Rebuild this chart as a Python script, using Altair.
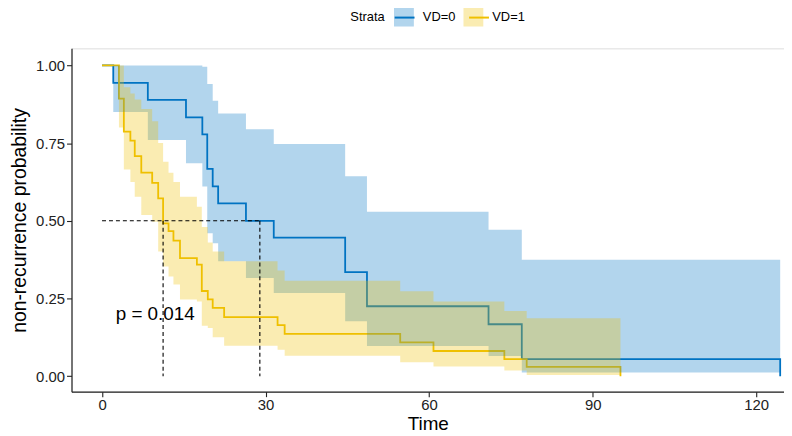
import altair as alt
import pandas as pd

# ---- VD=0 (blue) : event times, survival, 95% CI
t0 = [0, 2.06, 8.4, 15.4, 18.4, 19.3, 20.3, 21.3, 26.4, 31.5, 44.6, 48.6, 70.9, 77.0, 124.4]
s0 = [1, 0.944, 0.889, 0.833, 0.778, 0.667, 0.611, 0.556, 0.5, 0.446, 0.335, 0.225, 0.167, 0.055, 0]
lo0 = [1, 0.85, 0.76, 0.685, 0.61, 0.46, 0.428, 0.37, 0.316, 0.268, 0.177, 0.097, 0.065, 0.012, 0.012]
up0 = [1, 1, 1, 1, 0.996, 0.94, 0.886, 0.845, 0.795, 0.747, 0.643, 0.529, 0.471, 0.375, 0.375]

# ---- VD=1 (yellow)
t1 = [0, 3.1, 4.0, 5.2, 6.0, 7.2, 9.2, 10.3, 11.2, 12.2, 13.1, 14.3, 17.4, 18.3, 19.4, 20.3,
      22.4, 32.2, 33.5, 54.7, 60.8, 73.8, 77.9, 95.1]
s1 = [1, 0.893, 0.787, 0.758, 0.708, 0.655, 0.622, 0.572, 0.492, 0.467, 0.436, 0.38, 0.359, 0.274,
      0.247, 0.22, 0.19, 0.164, 0.136, 0.109, 0.081, 0.055, 0.03, 0]
lo1 = [1, 0.80, 0.665, 0.625, 0.577, 0.519, 0.497, 0.401, 0.353, 0.321, 0.295, 0.247, 0.24, 0.162,
       0.155, 0.125, 0.098, 0.085, 0.066, 0.045, 0.031, 0.018, 0.004, 0.004]
up1 = [1, 1, 0.93, 0.91, 0.89, 0.86, 0.82, 0.75, 0.69, 0.655, 0.625, 0.577, 0.545, 0.48, 0.43,
       0.401, 0.37, 0.34, 0.307, 0.273, 0.24, 0.21, 0.186, 0.186]

strata = ["VD=0", "VD=1"]
colors = ["#0073C2", "#EFC000"]

# median survival guide lines
median_y = 0.5
median_times = [11.2, 28.95]
pval_text = "p = 0.014"
pval_x, pval_y = 2.5, 0.2

x_ticks = [0, 30, 60, 90, 120]
y_ticks = [0, 0.25, 0.5, 0.75, 1.0]

FONT = "Liberation Sans"

lines = pd.concat([
    pd.DataFrame({"time": t0, "surv": s0, "Group": strata[0]}),
    pd.DataFrame({"time": t1, "surv": s1, "Group": strata[1]}),
])
bands = pd.concat([
    pd.DataFrame({"time": t0, "lower": lo0, "upper": up0, "Strata": strata[0]}),
    pd.DataFrame({"time": t1, "lower": lo1, "upper": up1, "Strata": strata[1]}),
])
hseg = pd.DataFrame({"x": [0], "x2": [max(median_times)], "y": [median_y]})
vseg = pd.DataFrame({"x": median_times, "y": [median_y] * 2, "y2": [0, 0]})
ptxt = pd.DataFrame({"x": [pval_x], "y": [pval_y], "t": [pval_text]})

xscale = alt.Scale(domain=[-5.6, 125.1], nice=False, zero=False)
yscale = alt.Scale(domain=[-0.05, 1.055], nice=False, zero=False)

xaxis = alt.Axis(values=x_ticks, grid=False, domainColor="#222", domainWidth=1.2,
                 tickColor="#222", tickSize=5, tickWidth=1.1, labelFontSize=15, labelColor="#222",
                 labelFont=FONT, labelPadding=1, titleFont=FONT, titleFontSize=19,
                 titleFontWeight="normal", titleColor="#000", titlePadding=2)
yaxis = alt.Axis(values=y_ticks, format=".2f", grid=False, domainColor="#222", domainWidth=1.2,
                 tickColor="#222", tickSize=5, tickWidth=1.1, labelFontSize=15, labelColor="#222",
                 labelFont=FONT, labelPadding=2, titleFont=FONT, titleFontSize=19.5,
                 titleFontWeight="normal", titleColor="#000", titlePadding=6)

LEG_X, LEG_Y = 281, -42
LEG_FS = 13
TITLE_W = 2.668 * LEG_FS      # width of "Strata"
LABEL_W = 2.529 * LEG_FS      # width of "VD=0"
legend_common = dict(orient="none", legendY=LEG_Y, direction="horizontal",
                     labelFont=FONT, labelFontSize=LEG_FS, labelColor="#000",
                     columnPadding=8, symbolSize=400)

# stroke legend: only the coloured lines, laid exactly over the fill legend's squares
line_layer = alt.Chart(lines).mark_line(interpolate="step-after", strokeWidth=1.8).encode(
    x=alt.X("time:Q", scale=xscale, axis=xaxis, title="Time"),
    y=alt.Y("surv:Q", scale=yscale, axis=yaxis, title="non-recurrence probability"),
    stroke=alt.Stroke("Group:N", scale=alt.Scale(range=colors),
                      legend=alt.Legend(title=None, symbolType="stroke", symbolStrokeWidth=2,
                                        legendX=LEG_X + TITLE_W + 9, labelExpr="''",
                                        labelOffset=9 + LABEL_W, **legend_common)),
)

band_layer = alt.Chart(bands).mark_area(interpolate="step-after", fillOpacity=0.3).encode(
    x="time:Q",
    y="lower:Q",
    y2="upper:Q",
    fill=alt.Fill("Strata:N", scale=alt.Scale(domain=strata, range=colors),
                  legend=alt.Legend(title="Strata", symbolType="square", symbolOpacity=0.3,
                                    symbolStrokeWidth=0, legendX=LEG_X, titleOrient="left",
                                    titleFont=FONT, titleFontSize=LEG_FS, titleFontWeight="normal",
                                    titleColor="#000", titlePadding=9, labelOffset=9,
                                    **legend_common)),
)

hrule = alt.Chart(hseg).mark_rule(strokeDash=[4, 3], color="#000", strokeWidth=1.1).encode(
    x="x:Q", x2="x2:Q", y="y:Q")
vrule = alt.Chart(vseg).mark_rule(strokeDash=[4, 3], color="#000", strokeWidth=1.1).encode(
    x="x:Q", y="y:Q", y2="y2:Q")

ptext = alt.Chart(ptxt).mark_text(align="left", baseline="middle", font=FONT, fontSize=19,
                                  color="#000").encode(x="x:Q", y="y:Q", text="t:N")

chart = alt.layer(line_layer, band_layer, hrule, vrule, ptext).properties(
    width=718, height=346,
    autosize=alt.AutoSizeParams(type="none"),
    padding={"left": 64, "top": 39, "right": 0, "bottom": 43},
).configure_view(stroke=None).configure(font=FONT)

chart.save("out.html", embed_options={"renderer": "svg", "actions": False})
